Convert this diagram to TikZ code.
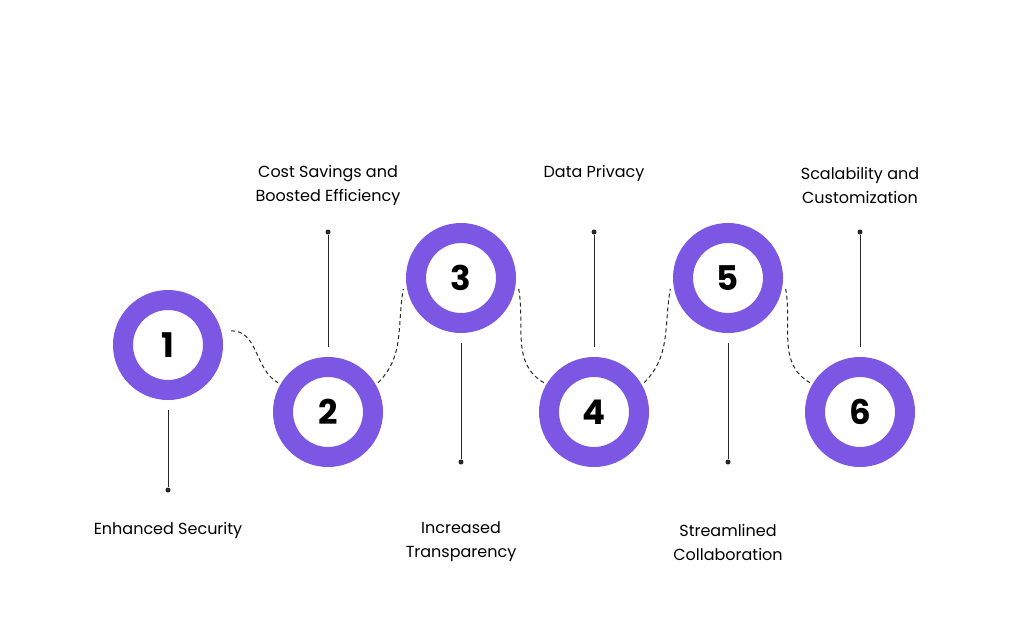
\documentclass[tikz,border=0pt]{standalone}
\usepackage{fontspec}
\setmainfont{Poppins}
\definecolor{ringviolet}{HTML}{7B57E4}
\begin{document}
\begin{tikzpicture}[x=1pt, y=-1pt,
		ring/.style={circle, draw=ringviolet, line width=20pt, fill=white, minimum size=90pt, inner sep=0pt, font=\fontsize{34}{36}\selectfont\bfseries},
		label/.style={align=center, font=\fontsize{16}{24}\selectfont},
		stem/.style={draw=black!85, line width=1pt},
		dot/.style={circle, fill=black!85, inner sep=0pt, minimum size=5pt},
		link/.style={draw=black!85, line width=1pt, dashed, dash pattern=on 4pt off 3pt}]
		\useasboundingbox (0,0) rectangle (1024,640);

		% circles, up ones and down ones
		\foreach \n/\x/\y in {1/168/345, 2/328/412, 3/461/278, 4/594/412, 5/728/278, 6/860/412}
			\node[ring] (c\n) at (\x,\y) {\n};

		% stems and dots
		\node[dot] (d1) at (168,490) {};
		\node[dot] (d2) at (328,232) {};
		\node[dot] (d3) at (461,462) {};
		\node[dot] (d4) at (594,232) {};
		\node[dot] (d5) at (728,462) {};
		\node[dot] (d6) at (860,232) {};
		\foreach \n in {1,3,5}
			\draw[stem] ([yshift=-10pt]c\n.south) -- (d\n);
		\foreach \n in {2,4,6}
			\draw[stem] ([yshift=10pt]c\n.north) -- (d\n);

		% dashed links
		\draw[link] ([xshift=10pt]c1.15) to[out=0, in=150] ([xshift=-8pt, yshift=-6pt]c2.140);
		\foreach \a/\b in {2/3, 4/5}
			\draw[link] ([xshift=8pt, yshift=-6pt]c\a.40) to[out=45, in=-100] ([xshift=-6pt, yshift=8pt]c\b.200);
		\foreach \a/\b in {3/4, 5/6}
			\draw[link] ([xshift=6pt, yshift=8pt]c\a.-20) to[out=-80, in=150] ([xshift=-8pt, yshift=-6pt]c\b.140);

		% texts
		\node[label] (t1) at (168,530) {Enhanced Security};
		\node[label] (t2) at (328,185) {Cost Savings and\\Boosted Efficiency};
		\node[label] (t3) at (461,542) {Increased\\Transparency};
		\node[label] (t4) at (594,173) {Data Privacy};
		\node[label] (t5) at (728,542) {Streamlined\\Collaboration};
		\node[label] (t6) at (860,185) {Scalability and\\Customization};
	\end{tikzpicture}
\end{document}
